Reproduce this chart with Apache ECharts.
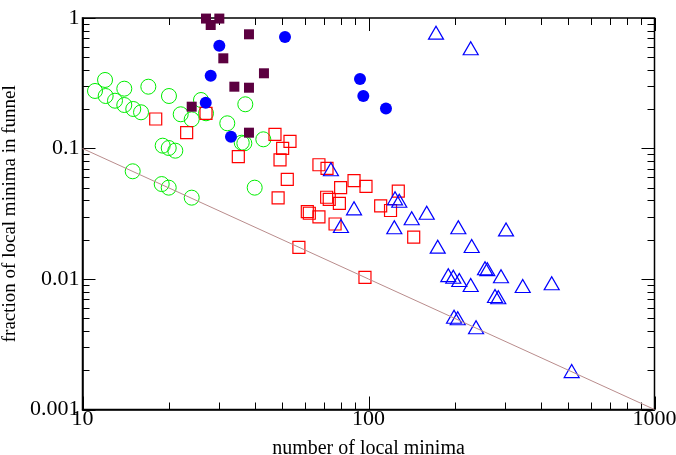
<!DOCTYPE html>
<html>
<head>
<meta charset="utf-8">
<script src="https://cdn.jsdelivr.net/npm/echarts@6/dist/echarts.min.js"></script>
<style>
  html, body { margin: 0; padding: 0; background: #fff; }
  #main { width: 676px; height: 455px; }
</style>
</head>
<body>
<div id="main"></div>
<script>
// green open circles
var greenX = [11.06, 11.99, 12.05, 12.99, 14.00, 14.00, 15.05, 16.02, 16.99, 20.06, 22.05, 24.09, 25.96, 27.03,
  37.09, 32.08, 36.04, 36.8, 42.88, 19.07, 20.02, 21.11, 14.98, 18.92, 20.02, 24.09, 40.0];
var greenY = [0.276, 0.335, 0.2525, 0.2324, 0.2873, 0.2154, 0.2008, 0.1894, 0.2976, 0.2525, 0.1829, 0.1674, 0.2353, 0.1861,
  0.2182, 0.156, 0.1108, 0.1096, 0.1176, 0.1051, 0.1009, 0.0962, 0.0669, 0.0534, 0.0501, 0.042, 0.0501];

// dark filled squares
var maroonX = [27.03, 28.07, 30.09, 38.2, 31.07, 43.1, 33.96, 38.2, 24.09, 38.2];
var maroonY = [0.99, 0.884, 0.99, 0.75, 0.491, 0.377, 0.2976, 0.2923, 0.2091, 0.1322];

// blue filled circles
var blueX = [26.97, 28.07, 30.09, 33.05, 51.05, 93.4, 95.9, 115.1];
var blueY = [0.2244, 0.3612, 0.6135, 0.1231, 0.715, 0.3407, 0.2525, 0.2025];

// red open squares
var redX = [18.03, 23.13, 27.03, 35.06, 47.1, 53.15, 50.1, 49.05, 52.0, 48.3, 67.1, 71.6, 79.9, 89.0,
  98.0, 71.4, 72.9, 79.1, 61.1, 62.1, 67.1, 76.4, 110.3, 119.4, 127.1, 143.9, 57.1, 97.2];
var redY = [0.1683, 0.1322, 0.1861, 0.0866, 0.1285, 0.1132, 0.1003, 0.0817, 0.0581, 0.0418, 0.0751, 0.0705, 0.0501, 0.0567,
  0.0512, 0.0423, 0.0408, 0.038, 0.0328, 0.0319, 0.0299, 0.0264, 0.0364, 0.0335, 0.0472, 0.0209, 0.0175, 0.0103];

// blue open triangles
var triX = [73.9, 89.0, 80.1, 123.8, 128.1, 141.6, 159.8, 123.1, 206.1, 302.6, 174.6, 229.5, 190.1, 197.9, 207.7,
  227.7, 255.5, 260.3, 290.6, 276.9, 284.3, 346.1, 437.1, 199.1, 205.1, 237.7, 513.4, 172.2, 227.7];
var triY = [0.0693, 0.0348, 0.0255, 0.0415, 0.0398, 0.0292, 0.0322, 0.0249, 0.0249, 0.024, 0.0177, 0.0179, 0.0107, 0.0104, 0.00982,
  0.009, 0.0121, 0.0119, 0.0105, 0.00741, 0.00724, 0.00884, 0.00927, 0.00514, 0.005, 0.00427, 0.00197, 0.772, 0.586];

// reference line
var lineX = [10, 1000];
var lineY = [0.1, 0.001];

// tick positions
var xMajor = [10, 100, 1000];
var xMinor = [20, 30, 40, 50, 60, 70, 80, 90, 200, 300, 400, 500, 600, 700, 800, 900];
var yMajor = [0.001, 0.01, 0.1, 1];
var yMinor = [0.002, 0.003, 0.004, 0.005, 0.006, 0.007, 0.008, 0.009,
  0.02, 0.03, 0.04, 0.05, 0.06, 0.07, 0.08, 0.09,
  0.2, 0.3, 0.4, 0.5, 0.6, 0.7, 0.8, 0.9];

function pairs(xs, ys) {
  var out = [];
  for (var i = 0; i < xs.length; i++) out.push([xs[i], ys[i]]);
  return out;
}

var tickData = [];
xMajor.forEach(function (v) { tickData.push([v, 1, 0, 13]); });
xMinor.forEach(function (v) { tickData.push([v, 1, 0, 7]); });
yMajor.forEach(function (v) { tickData.push([10, v, 1, 13]); });
yMinor.forEach(function (v) { tickData.push([10, v, 1, 7]); });

var serif = 'Liberation Serif';
var chart = echarts.init(document.getElementById('main'));

function fmt(v) { return String(parseFloat(Number(v).toPrecision(6))); }

var option = {
  animation: false,
  backgroundColor: '#fff',
  textStyle: { fontFamily: serif },
  grid: {
    left: 82.5, right: 21.5, top: 18, bottom: 45.5,
    containLabel: false, outerBoundsMode: 'none',
    show: true, borderColor: '#000', borderWidth: 1.5
  },
  xAxis: {
    type: 'log', logBase: 10, min: 10, max: 1000,
    name: 'number of local minima', nameLocation: 'middle', nameGap: 29,
    nameTextStyle: { fontFamily: serif, fontSize: 20, color: '#000' },
    axisLine: { lineStyle: { color: '#000', width: 1.5 } },
    axisTick: { show: false },
    splitLine: { show: false },
    axisLabel: { fontFamily: serif, fontSize: 22, color: '#000', margin: -1, formatter: fmt }
  },
  yAxis: {
    type: 'log', logBase: 10, min: 0.001, max: 1,
    name: 'fraction of local minima in funnel', nameLocation: 'middle', nameGap: 58,
    nameTextStyle: { fontFamily: serif, fontSize: 19, color: '#000' },
    axisLine: { lineStyle: { color: '#000', width: 1.5 } },
    axisTick: { show: false },
    splitLine: { show: false },
    axisLabel: { fontFamily: serif, fontSize: 22, color: '#000', margin: 3, formatter: fmt }
  },
  series: [
    {
      type: 'line', data: pairs(lineX, lineY), symbol: 'none', silent: true,
      lineStyle: { color: '#b98c8c', width: 1 }
    },
    {
      type: 'scatter', data: pairs(greenX, greenY), symbol: 'circle', symbolSize: 15,
      itemStyle: { color: 'rgba(0,0,0,0)', borderColor: '#00ee00', borderWidth: 1, opacity: 1 }
    },
    {
      type: 'scatter', data: pairs(redX, redY), symbol: 'rect', symbolSize: 12,
      itemStyle: { color: 'rgba(0,0,0,0)', borderColor: '#ff0000', borderWidth: 1.2, opacity: 1 }
    },
    {
      type: 'scatter', data: pairs(triX, triY), symbol: 'triangle', symbolSize: [15, 13],
      itemStyle: { color: 'rgba(0,0,0,0)', borderColor: '#0000ff', borderWidth: 1.2, opacity: 1 }
    },
    {
      type: 'scatter', data: pairs(maroonX, maroonY), symbol: 'rect', symbolSize: 10,
      itemStyle: { color: '#5c0040', opacity: 1 }
    },
    {
      type: 'scatter', data: pairs(blueX, blueY), symbol: 'circle', symbolSize: 12,
      itemStyle: { color: '#0000ff', opacity: 1 }
    },
    {
      type: 'custom', silent: true, clip: false, data: tickData,
      renderItem: function (params, api) {
        var cs = params.coordSys;
        var p = api.coord([api.value(0), api.value(1)]);
        var len = api.value(3);
        var st = { stroke: '#000', lineWidth: 1 };
        if (api.value(2) === 0) {
          var x = Math.round(p[0]) + 0.5;
          return { type: 'group', children: [
            { type: 'line', shape: { x1: x, y1: cs.y + cs.height, x2: x, y2: cs.y + cs.height - len }, style: st },
            { type: 'line', shape: { x1: x, y1: cs.y, x2: x, y2: cs.y + len }, style: st }
          ] };
        }
        var y = Math.round(p[1]) + 0.5;
        return { type: 'group', children: [
          { type: 'line', shape: { x1: cs.x, y1: y, x2: cs.x + len, y2: y }, style: st },
          { type: 'line', shape: { x1: cs.x + cs.width, y1: y, x2: cs.x + cs.width - len, y2: y }, style: st }
        ] };
      }
    }
  ]
};
chart.setOption(option);
</script>
</body>
</html>
